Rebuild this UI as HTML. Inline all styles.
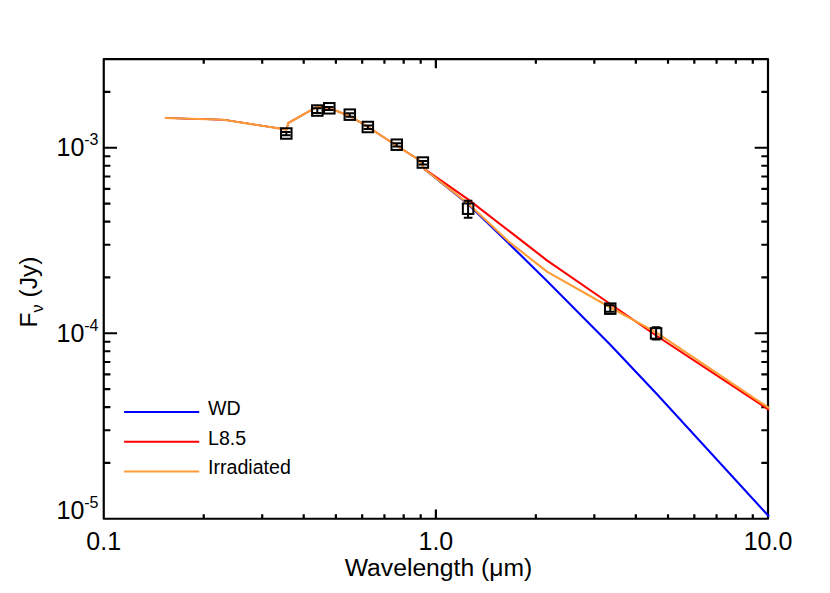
<!DOCTYPE html>
<html><head><meta charset="utf-8"><title>SED</title>
<style>html,body{margin:0;padding:0;background:#fff;}body{width:830px;height:593px;overflow:hidden;}svg{display:block;}text{font-family:"Liberation Sans",sans-serif;fill:#000;}</style>
</head><body>
<svg width="830" height="593" viewBox="0 0 830 593">
<rect x="0" y="0" width="830" height="593" fill="#ffffff"/>
<g stroke="#000" stroke-width="2.2" fill="none" stroke-linecap="butt">
<rect x="103.75" y="59.05" width="664.25" height="459.7" stroke-linejoin="round"/>
<path d="M203.73 518.75 V514.15 M203.73 59.05 V63.65"/>
<path d="M262.21 518.75 V514.15 M262.21 59.05 V63.65"/>
<path d="M303.71 518.75 V514.15 M303.71 59.05 V63.65"/>
<path d="M335.90 518.75 V514.15 M335.90 59.05 V63.65"/>
<path d="M362.19 518.75 V514.15 M362.19 59.05 V63.65"/>
<path d="M384.43 518.75 V514.15 M384.43 59.05 V63.65"/>
<path d="M403.69 518.75 V514.15 M403.69 59.05 V63.65"/>
<path d="M420.68 518.75 V514.15 M420.68 59.05 V63.65"/>
<path d="M435.88 518.75 V509.55 M435.88 59.05 V68.25"/>
<path d="M535.85 518.75 V514.15 M535.85 59.05 V63.65"/>
<path d="M594.34 518.75 V514.15 M594.34 59.05 V63.65"/>
<path d="M635.83 518.75 V514.15 M635.83 59.05 V63.65"/>
<path d="M668.02 518.75 V514.15 M668.02 59.05 V63.65"/>
<path d="M694.32 518.75 V514.15 M694.32 59.05 V63.65"/>
<path d="M716.55 518.75 V514.15 M716.55 59.05 V63.65"/>
<path d="M735.81 518.75 V514.15 M735.81 59.05 V63.65"/>
<path d="M752.80 518.75 V514.15 M752.80 59.05 V63.65"/>
<path d="M103.75 462.91 H110.40 M768.0 462.91 H761.35"/>
<path d="M103.75 430.24 H110.40 M768.0 430.24 H761.35"/>
<path d="M103.75 407.07 H110.40 M768.0 407.07 H761.35"/>
<path d="M103.75 389.09 H110.40 M768.0 389.09 H761.35"/>
<path d="M103.75 374.40 H110.40 M768.0 374.40 H761.35"/>
<path d="M103.75 361.98 H110.40 M768.0 361.98 H761.35"/>
<path d="M103.75 351.23 H110.40 M768.0 351.23 H761.35"/>
<path d="M103.75 341.74 H110.40 M768.0 341.74 H761.35"/>
<path d="M103.75 333.25 H117.05 M768.0 333.25 H754.70"/>
<path d="M103.75 277.41 H110.40 M768.0 277.41 H761.35"/>
<path d="M103.75 244.74 H110.40 M768.0 244.74 H761.35"/>
<path d="M103.75 221.57 H110.40 M768.0 221.57 H761.35"/>
<path d="M103.75 203.59 H110.40 M768.0 203.59 H761.35"/>
<path d="M103.75 188.90 H110.40 M768.0 188.90 H761.35"/>
<path d="M103.75 176.48 H110.40 M768.0 176.48 H761.35"/>
<path d="M103.75 165.73 H110.40 M768.0 165.73 H761.35"/>
<path d="M103.75 156.24 H110.40 M768.0 156.24 H761.35"/>
<path d="M103.75 147.75 H117.05 M768.0 147.75 H754.70"/>
<path d="M103.75 91.91 H110.40 M768.0 91.91 H761.35"/>
</g>
<polyline points="164.90,118.00 223.70,119.80 286.50,129.60 288.30,123.00 317.30,106.70 329.30,108.00 349.80,116.20 367.85,126.85 396.90,145.80 418.70,159.60 424.60,169.20" fill="none" stroke="#0000ff" stroke-width="1.5" stroke-linejoin="round" stroke-linecap="butt"/>
<polyline points="424.60,169.20 468.10,204.20 508.10,242.80 547.00,280.90 610.30,344.80 656.10,393.30 769.00,516.50" fill="none" stroke="#0000ff" stroke-width="2.1" stroke-linejoin="round" stroke-linecap="butt"/>
<polyline points="164.90,118.00 223.70,119.80 286.50,129.60 288.30,123.00 317.30,106.70 329.30,108.00 349.80,116.20 367.85,126.85 396.90,145.80 418.70,159.60 424.60,169.20" fill="none" stroke="#ff0000" stroke-width="1.5" stroke-linejoin="round" stroke-linecap="butt"/>
<polyline points="424.60,169.20 468.10,199.30 546.90,260.30 610.30,304.00 656.10,335.50 769.00,409.85" fill="none" stroke="#ff0000" stroke-width="2.1" stroke-linejoin="round" stroke-linecap="butt"/>
<polyline points="164.90,118.00 223.70,119.80 286.50,129.60 288.30,123.00 317.30,106.70 329.30,108.00 349.80,116.20 367.85,126.85 396.90,145.80 418.70,159.60 424.60,169.20 468.10,203.60 508.10,241.10 547.00,271.60 610.30,307.50 656.10,332.40 769.00,408.05" fill="none" stroke="#ff9c36" stroke-width="2.1" stroke-linejoin="round" stroke-linecap="butt"/>
<g stroke="#000" stroke-width="2" fill="none" stroke-linecap="butt" stroke-linejoin="miter">
<rect x="281.05" y="128.25" width="10.5" height="10.5"/>
<path d="M286.30 132.10 V135.30 M282.00 132.10 H290.60 M282.00 135.30 H290.60"/>
<rect x="312.05" y="105.30" width="10.5" height="10.5"/>
<path d="M317.30 108.30 V112.90 M313.00 108.30 H321.60 M313.00 112.90 H321.60"/>
<rect x="324.05" y="103.05" width="10.5" height="10.5"/>
<path d="M329.30 106.90 V110.10 M325.00 106.90 H333.60 M325.00 110.10 H333.60"/>
<rect x="344.55" y="109.40" width="10.5" height="10.5"/>
<path d="M349.80 113.20 V116.80 M345.50 113.20 H354.10 M345.50 116.80 H354.10"/>
<rect x="362.60" y="121.75" width="10.5" height="10.5"/>
<path d="M367.85 125.50 V128.90 M363.55 125.50 H372.15 M363.55 128.90 H372.15"/>
<rect x="391.50" y="139.45" width="10.5" height="10.5"/>
<path d="M396.75 143.20 V146.60 M392.45 143.20 H401.05 M392.45 146.60 H401.05"/>
<rect x="417.60" y="157.30" width="10.5" height="10.5"/>
<path d="M422.85 161.00 V164.40 M418.55 161.00 H427.15 M418.55 164.40 H427.15"/>
<rect x="462.85" y="203.45" width="10.5" height="10.5"/>
<path d="M468.10 200.85 V217.85 M463.80 200.85 H472.40 M463.80 217.85 H472.40"/>
<rect x="605.00" y="303.40" width="10.5" height="10.5"/>
<path d="M610.25 305.35 V311.75 M605.95 305.35 H614.55 M605.95 311.75 H614.55"/>
<rect x="650.85" y="328.15" width="10.5" height="10.5"/>
<path d="M656.10 327.20 V339.60 M651.80 327.20 H660.40 M651.80 339.60 H660.40"/>
</g>
<line x1="124.1" y1="412.0" x2="199.2" y2="412.0" stroke="#0000ff" stroke-width="2"/>
<line x1="124.1" y1="441.7" x2="199.2" y2="441.7" stroke="#ff0000" stroke-width="2"/>
<line x1="124.1" y1="471.6" x2="199.2" y2="471.6" stroke="#ff9c36" stroke-width="2"/>
<text x="208" y="414.8" font-size="19.6">WD</text>
<text x="208" y="444.5" font-size="19.6">L8.5</text>
<text x="208" y="474.3" font-size="19.6">Irradiated</text>
<text x="56.5" y="156.4" font-size="25">10</text>
<text x="84.2" y="145.2" font-size="16">-3</text>
<text x="56.5" y="341.9" font-size="25">10</text>
<text x="84.2" y="330.7" font-size="16">-4</text>
<text x="56.5" y="518.9" font-size="25">10</text>
<text x="84.2" y="507.7" font-size="16">-5</text>
<text x="103.75" y="549.5" font-size="25" text-anchor="middle">0.1</text>
<text x="435.88" y="549.5" font-size="25" text-anchor="middle">1.0</text>
<text x="768" y="549.5" font-size="25" text-anchor="middle">10.0</text>
<text x="438.5" y="576.4" font-size="24.7" text-anchor="middle">Wavelength (μm)</text>
<text transform="translate(36.8,327.5) rotate(-90)" font-size="24.7">F<tspan dy="6" font-size="16">ν</tspan><tspan dy="-6" font-size="24.7"> (Jy)</tspan></text>
</svg></body></html>
